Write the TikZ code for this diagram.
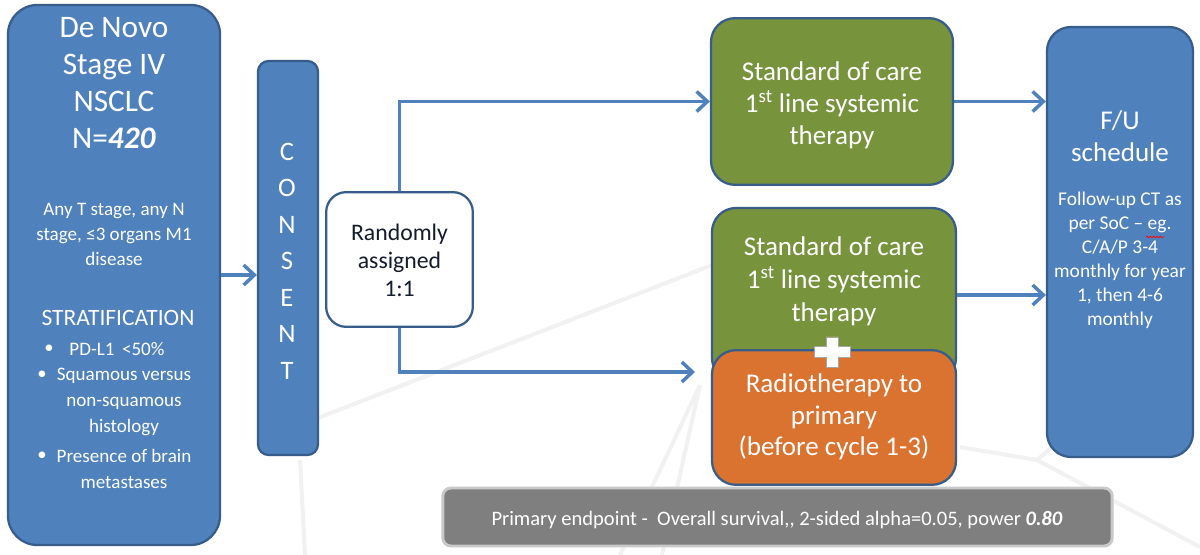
\documentclass[tikz,border=0pt]{standalone}
\usepackage{fontspec}
\setmainfont{Carlito}
\usetikzlibrary{arrows.meta,decorations.pathmorphing}
\definecolor{boxblue}{HTML}{4F81BD}
\definecolor{edgeblue}{HTML}{385D8A}
\definecolor{boxgreen}{HTML}{77933C}
\definecolor{boxorange}{HTML}{DA7230}
\definecolor{boxgray}{HTML}{7F7F7F}
\definecolor{graybord}{HTML}{C9C9C9}
\definecolor{darktext}{HTML}{141B2D}
\definecolor{wmark}{HTML}{F1F1F1}
\begin{document}
\begin{tikzpicture}[x=0.75pt,y=-0.75pt,
  box/.style={draw=edgeblue,line width=1.7pt,inner sep=0pt},
  wt/.style={text=white,align=center,inner sep=0pt},
  arr/.style={draw=boxblue,line width=2.6pt,-{Straight Barb[length=8pt,width=15pt]}},
  wline/.style={draw=wmark,line width=3pt}]
\useasboundingbox (0,0) rectangle (1200,555);
\fill[white] (0,0) rectangle (1200,555);
% faint background watermark
\draw[wline] (300,425) -- (720,262);
\draw[wline] (300,460) -- (305,555);
\draw[wline] (620,555) -- (700,385);
\draw[wline] (662,555) -- (700,385);
\draw[wline] (960,447) -- (1037,460) -- (1200,547);
\draw[wline] (1037,460) -- (1057,443);
% boxes
\node[box,fill=boxblue,minimum width=159pt,minimum height=405pt,rounded corners=22pt] (L) at (114,275) {};
\node[box,fill=boxblue,minimum width=45pt,minimum height=295.5pt,rounded corners=8pt] (C) at (288,258) {};
\node[box,fill=white,minimum width=110pt,minimum height=101pt,rounded corners=15pt] (R) at (399.5,259.5) {};
\node[box,fill=boxgreen,minimum width=181.5pt,minimum height=125pt,rounded corners=18pt] (G1) at (832,101.5) {};
\node[box,fill=boxgreen,minimum width=183pt,minimum height=130.5pt,rounded corners=18pt] (G2) at (834,295) {};
\node[box,fill=boxorange,minimum width=183pt,minimum height=101pt,rounded corners=18pt] (O) at (834,417.5) {};
\node[box,fill=boxblue,minimum width=109.5pt,minimum height=322.5pt,rounded corners=18pt] (F) at (1120,242) {};
\node[draw=graybord,line width=2.2pt,fill=boxgray,minimum width=502pt,minimum height=43.5pt,rounded corners=6pt,inner sep=0pt] (P) at (777.5,517) {};
% plus sign
\filldraw[fill=white,draw=gray!70,line width=0.6pt,shift={(832,352)}]
  (-6,-15) -- (6,-15) -- (6,-5.5) -- (18,-5.5) -- (18,5.5) -- (6,5.5) -- (6,15) -- (-6,15) -- (-6,5.5) -- (-18,5.5) -- (-18,-5.5) -- (-6,-5.5) -- cycle;
% connectors
\coordinate (rb) at (695,372);
\draw[arr] (L.east) -- (L.east -| C.west);
\draw[arr] (R.north) |- (G1.west);
\draw[arr] (R.south) |- (rb);
\draw[arr] (G1.east) -- (G1.east -| F.west);
\draw[arr] (G2.east) -- (G2.east -| F.west);
% texts
\node[wt,font=\fontsize{23.5}{27.75}\selectfont] (t1) at (114,83) {De Novo\\Stage IV\\NSCLC\\N=\textbf{\textit{420}}};
\node[wt,font=\fontsize{14.3}{18.75}\selectfont] (t2) at (114,234) {Any T stage, any N\\stage, ≤3 organs M1\\disease};
\node[wt,font=\fontsize{17.6}{20}\selectfont] (t3) at (118,318) {STRATIFICATION};
\node[wt,font=\fontsize{14}{19.5}\selectfont] (b1) at (49,349) {\textbullet};
\node[wt,font=\fontsize{14}{19.5}\selectfont] (b2) at (42,375) {\textbullet};
\node[wt,font=\fontsize{14}{19.5}\selectfont] (b3) at (42,456) {\textbullet};
\node[wt,font=\fontsize{14.3}{19.5}\selectfont] (s1) at (117,349) {PD-L1 \,<50\%};
\node[wt,font=\fontsize{14.3}{19.5}\selectfont] (s2) at (124,401.5) {Squamous versus\\non-squamous\\histology};
\node[wt,font=\fontsize{14.3}{19.5}\selectfont] (s3) at (124,469) {Presence of brain\\metastases};
\node[wt,font=\fontsize{20}{27.4}\selectfont] (ct) at (287,261) {C\\O\\N\\S\\E\\N\\T};
\node[align=center,inner sep=0pt,text=darktext,font=\fontsize{17.8}{21}\selectfont] (rt) at (399.5,260) {Randomly\\assigned\\1:1};
\node[wt,font=\fontsize{20.3}{24}\selectfont] (g1t) at (832,105) {Standard of care\\1\textsuperscript{st} line systemic\\therapy};
\node[wt,font=\fontsize{20.3}{24.75}\selectfont] (g2t) at (834,281) {Standard of care\\1\textsuperscript{st} line systemic\\therapy};
\node[wt,font=\fontsize{20.3}{23.6}\selectfont] (ot) at (834,417) {Radiotherapy to\\primary\\(before cycle 1-3)};
\node[wt,font=\fontsize{20.3}{24}\selectfont] (ft) at (1120,136) {F/U\\schedule};
\node[wt,font=\fontsize{14.6}{18}\selectfont] (fs) at (1120,260) {Follow-up CT as\\per SoC – eg.\\C/A/P 3-4\\monthly for year\\1, then 4-6\\monthly};
\draw[red,line width=0.5pt,decorate,decoration={snake,amplitude=0.6pt,segment length=2.5pt}] (1146,237) -- (1164,237);
\node[wt,font=\fontsize{15.4}{18}\selectfont] (pt) at (777,520) {Primary endpoint -\ \ Overall survival,\kern0pt, 2-sided alpha=0.05, power \textbf{\textit{0.80}}};
\end{tikzpicture}
\end{document}
